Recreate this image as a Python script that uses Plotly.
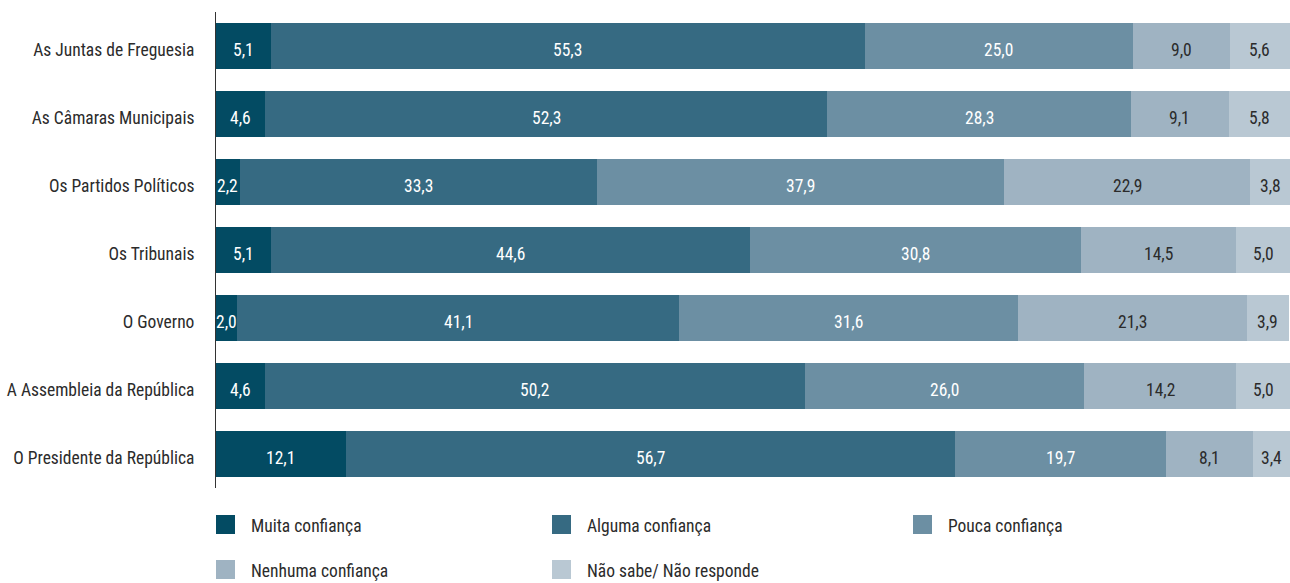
import plotly.graph_objects as go

categories = ["As Juntas de Freguesia", "As Câmaras Municipais", "Os Partidos Políticos",
              "Os Tribunais", "O Governo", "A Assembleia da República", "O Presidente da República"]
series_names = ["Muita confiança", "Alguma confiança", "Pouca confiança",
                "Nenhuma confiança", "Não sabe/ Não responde"]
muita = [5.1, 4.6, 2.2, 5.1, 2.0, 4.6, 12.1]
alguma = [55.3, 52.3, 33.3, 44.6, 41.1, 50.2, 56.7]
pouca = [25.0, 28.3, 37.9, 30.8, 31.6, 26.0, 19.7]
nenhuma = [9.0, 9.1, 22.9, 14.5, 21.3, 14.2, 8.1]
nao_sabe = [5.6, 5.8, 3.8, 5.0, 3.9, 5.0, 3.4]

series_values = [muita, alguma, pouca, nenhuma, nao_sabe]
colors = ["#034B63", "#366A82", "#6C8FA3", "#9FB3C2", "#B9C8D3"]
text_colors = ["white", "white", "white", "#2b2b2b", "#2b2b2b"]

FONT = "Roboto Condensed, DejaVu Sans Condensed, sans-serif"
TXT = "#2b2b2b"
WEIGHT = 400

W, H = 1290, 583
L, T, B = 216, 12, 95
PLOT_W = W - L
PLOT_H = H - T - B

fig = go.Figure()
base = [0.0] * len(categories)
for name, vals, c, tc in zip(series_names, series_values, colors, text_colors):
    fig.add_trace(go.Bar(
        y=categories, x=vals, name=name, orientation="h",
        marker=dict(color=c, line=dict(width=0)),
        hoverinfo="skip", showlegend=False,
    ))
    # value labels centred on each segment (data coordinates), nudged down like the reference
    for cat, b0, v in zip(categories, base, vals):
        fig.add_annotation(x=b0 + v / 2, y=cat, xref="x", yref="y",
                           text=f"{v:.1f}".replace(".", ","), showarrow=False,
                           xanchor="center", yanchor="middle", yshift=-4,
                           font=dict(color=tc, size=17.5, family=FONT, weight=WEIGHT))
    base = [b0 + v for b0, v in zip(base, vals)]

fig.update_layout(
    barmode="stack", bargap=0.324,
    width=W, height=H,
    margin=dict(l=L, r=0, t=T, b=B, pad=0),
    plot_bgcolor="white", paper_bgcolor="white",
    font=dict(family=FONT, size=17.5, color=TXT, weight=WEIGHT),
    xaxis=dict(range=[0, 100], showgrid=False, showticklabels=False, zeroline=False,
               fixedrange=True, automargin=False),
    yaxis=dict(categoryorder="array", categoryarray=categories, autorange="reversed",
               showline=True, linecolor="#333333", linewidth=1.2, showgrid=False,
               ticks="", ticklabelstandoff=17, ticklabelshift=-4, automargin=False,
               tickfont=dict(size=17.5, family=FONT, color=TXT, weight=WEIGHT)),
)

# Legend drawn manually (swatch left x, text left x, center y) in pixels
legend_pos = [(216, 250, 524.5), (552, 586, 524.5), (913, 947, 524.5),
              (216, 250, 569.5), (552, 586, 569.5)]
SW = 19


def px(x):
    return (x - L) / PLOT_W


def py(y):
    return (H - B - y) / PLOT_H


for (sx, tx, cy), name, c in zip(legend_pos, series_names, colors):
    fig.add_shape(type="rect", xref="paper", yref="paper",
                  x0=px(sx), x1=px(sx + SW), y0=py(cy + SW / 2), y1=py(cy - SW / 2),
                  fillcolor=c, line=dict(width=0))
    fig.add_annotation(xref="paper", yref="paper", x=px(tx), y=py(cy),
                       text=name, showarrow=False, xanchor="left", yanchor="middle",
                       xshift=-1, yshift=-1, font=dict(size=17.5, family=FONT, color=TXT, weight=WEIGHT))

fig.write_html("out.html", config={"displayModeBar": False},
               post_script="document.body.style.margin='0';document.body.style.overflow='hidden';")
